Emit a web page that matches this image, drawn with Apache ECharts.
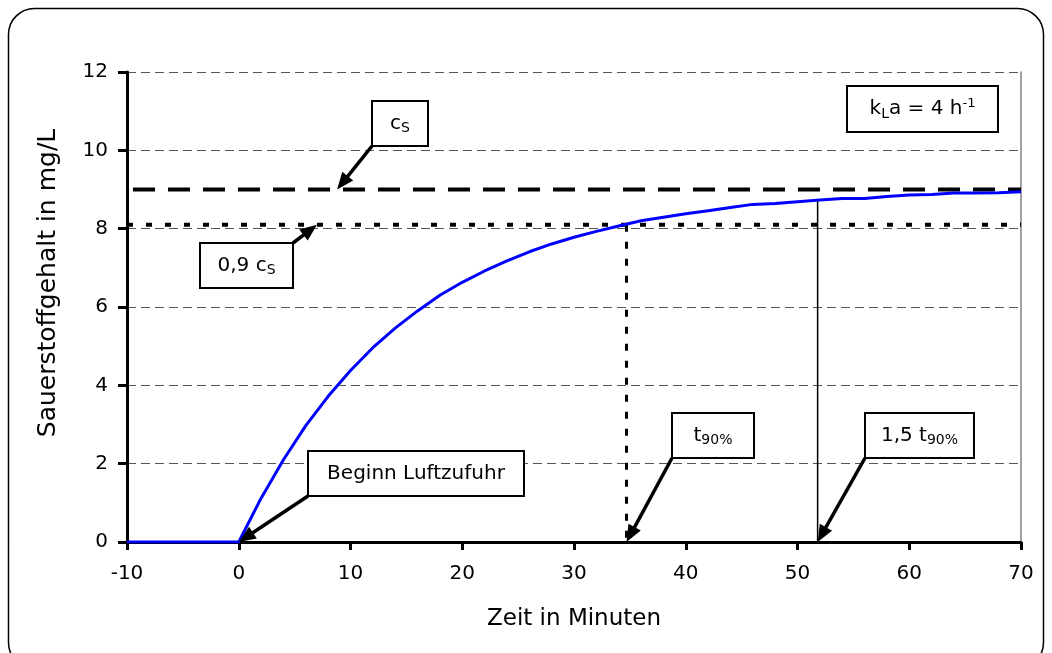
<!DOCTYPE html>
<html>
<head>
<meta charset="utf-8">
<script src="https://cdn.jsdelivr.net/npm/echarts@6/dist/echarts.min.js"></script>
<style>
  html, body { margin: 0; padding: 0; background: #ffffff; }
  #chart { width: 1052px; height: 653px; }
</style>
</head>
<body>
<div id="chart"></div>
<script>
// Oxygen uptake after switching on aeration (kLa = 4 1/h)
const timeMin = [-10, -8, -6, -4, -2, 0, 2, 4, 6, 8, 10, 12, 14, 16, 18, 20, 22, 24, 26, 28, 30,
                 32, 34, 36, 38, 40, 42, 44, 46, 48, 50, 52, 54, 56, 58, 60, 62, 64, 66, 68, 70];
const oxygen = [0, 0, 0, 0, 0, 0, 1.12, 2.1, 2.97, 3.72, 4.38, 4.96, 5.46, 5.9, 6.3, 6.63, 6.92, 7.18,
                7.41, 7.61, 7.78, 7.93, 8.07, 8.2, 8.29, 8.38, 8.46, 8.54, 8.62, 8.64, 8.69, 8.73, 8.77,
                8.77, 8.82, 8.86, 8.87, 8.91, 8.91, 8.92, 8.94];

// axis ticks
const xTicks = [-10, 0, 10, 20, 30, 40, 50, 60, 70];
const yTicks = [0, 2, 4, 6, 8, 10, 12];

// reference levels and times
const satLevel = 9.0;          // c_S
const sat90Level = 8.1;        // 0,9 c_S
const t90 = 34.7;              // t_90%
const t150 = 51.8;             // 1,5 t_90%
const oxygenAtT150 = 8.72;

// callout anchor points (data coordinates of the arrow tips)
const calloutTips = {
  cs:     [8.8, satLevel],
  cs90:   [7.0, sat90Level],
  start:  [0, 0],
  t90:    [t90, 0],
  t150:   [t150, 0]
};

const FONT = 'DejaVu Sans, Verdana, sans-serif';

const chart = echarts.init(document.getElementById('chart'), null, { renderer: 'canvas' });

const pairs = timeMin.map((t, i) => [t, oxygen[i]]);
const xMin = xTicks[0], xMax = xTicks[xTicks.length - 1];
const yMin = yTicks[0], yMax = yTicks[yTicks.length - 1];

chart.setOption({
  animation: false,
  backgroundColor: '#ffffff',
  grid: { left: 127, right: 31, top: 72, bottom: 111 },
  xAxis: {
    type: 'value',
    min: xMin, max: xMax, interval: xTicks[1] - xTicks[0],
    name: 'Zeit in Minuten',
    nameLocation: 'middle',
    nameGap: 66,
    nameTextStyle: { color: '#000', fontSize: 23, fontFamily: FONT },
    axisLine: { show: true, onZero: false, lineStyle: { color: '#000', width: 3 } },
    axisTick: { show: true, length: 8, lineStyle: { color: '#000', width: 3 } },
    axisLabel: { color: '#000', fontSize: 20, fontFamily: FONT, margin: 22 },
    splitLine: { show: false }
  },
  yAxis: [
    {
      type: 'value',
      min: yMin, max: yMax, interval: yTicks[1] - yTicks[0],
      name: 'Sauerstoffgehalt in mg/L',
      nameLocation: 'middle',
      nameGap: 66,
      nameTextStyle: { color: '#000', fontSize: 25, fontFamily: FONT, padding: [0, 0, 0, 48] },
      axisLine: { show: true, onZero: false, lineStyle: { color: '#000', width: 3 } },
      axisTick: { show: true, length: 9, lineStyle: { color: '#000', width: 3 } },
      axisLabel: { color: '#000', fontSize: 20, fontFamily: FONT, margin: 19 },
      splitLine: { show: true, lineStyle: { color: '#555', width: 1, type: [9, 5] } }
    },
    {
      type: 'value',
      position: 'right',
      min: yMin, max: yMax, interval: yTicks[1] - yTicks[0],
      axisLine: { show: true, onZero: false, lineStyle: { color: '#808080', width: 1.5 } },
      axisTick: { show: false },
      axisLabel: { show: false },
      splitLine: { show: false }
    }
  ],
  series: [
    {
      name: 'c_S',
      type: 'line',
      data: [[xMin, satLevel], [xMax, satLevel]],
      symbol: 'none',
      silent: true,
      z: 2,
      lineStyle: { color: '#000', width: 4, type: [22, 13], dashOffset: 29 }
    },
    {
      name: '0,9 c_S',
      type: 'line',
      data: [[xMin, sat90Level], [xMax, sat90Level]],
      symbol: 'none',
      silent: true,
      z: 2,
      lineStyle: { color: '#000', width: 4, type: [6, 13] }
    },
    {
      name: 't90',
      type: 'line',
      data: [[t90, sat90Level], [t90, 0]],
      symbol: 'none',
      silent: true,
      z: 2,
      lineStyle: { color: '#000', width: 3, type: [7, 10] }
    },
    {
      name: '1,5 t90',
      type: 'line',
      data: [[t150, oxygenAtT150], [t150, 0]],
      symbol: 'none',
      silent: true,
      z: 2,
      lineStyle: { color: '#000', width: 1.5, type: 'solid' }
    },
    {
      name: 'Sauerstoff',
      type: 'line',
      data: pairs,
      symbol: 'none',
      silent: true,
      z: 5,
      lineStyle: { color: '#0000ff', width: 3 }
    }
  ]
});

// --- callout boxes with arrows -------------------------------------------
const richStyles = {
  m: { fontSize: 20, fontFamily: FONT, lineHeight: 24, fill: '#000' },
  s: { fontSize: 14, fontFamily: FONT, lineHeight: 11, verticalAlign: 'bottom', fill: '#000' },
  p: { fontSize: 13, fontFamily: FONT, lineHeight: 12, verticalAlign: 'top', fill: '#000' }
};

// box: left/top offset of the box relative to the tip, size, corner where the arrow starts
const callouts = [
  { key: 'cs',    text: '{m|c}{s|S}',              dx: 35,   dy: -89, w: 56,  h: 45, from: 'bl' },
  { key: 'cs90',  text: '{m|0,9 c}{s|S}',          dx: -117, dy: 18,  w: 93,  h: 45, from: 'tr' },
  { key: 'start', text: '{m|Beginn Luftzufuhr}',   dx: 69,   dy: -91, w: 216, h: 45, from: 'bl' },
  { key: 't90',   text: '{m|t}{s|90%}',            dx: 45,   dy: -129, w: 82, h: 45, from: 'bl' },
  { key: 't150',  text: '{m|1,5 t}{s|90%}',        dx: 47,   dy: -129, w: 109, h: 45, from: 'bl' }
];

function arrow(x1, y1, x2, y2) {
  const dx = x2 - x1, dy = y2 - y1;
  const len = Math.hypot(dx, dy);
  const ux = dx / len, uy = dy / len;
  const headLen = 17, headHalf = 7;
  const bx = x2 - ux * headLen, by = y2 - uy * headLen;
  const px = -uy, py = ux;
  return [
    { type: 'line', z: 100, shape: { x1: x1, y1: y1, x2: bx + ux * 2, y2: by + uy * 2 },
      style: { stroke: '#000', lineWidth: 3.5 } },
    { type: 'polygon', z: 100,
      shape: { points: [[x2, y2], [bx + px * headHalf, by + py * headHalf], [bx - px * headHalf, by - py * headHalf]] },
      style: { fill: '#000' } }
  ];
}

function box(x, y, w, h, text) {
  return [
    { type: 'rect', z: 101, shape: { x: x, y: y, width: w, height: h },
      style: { fill: '#fff', stroke: '#000', lineWidth: 2 } },
    { type: 'text', z: 102, x: x + w / 2, y: y + h / 2,
      style: { text: text, rich: richStyles, align: 'center', verticalAlign: 'middle',
               fontFamily: FONT, fontSize: 20, fill: '#000' } }
  ];
}

function buildGraphics() {
  const elems = [];
  // outer rounded frame
  elems.push({ type: 'rect', z: 0, silent: true,
    shape: { x: 8.5, y: 8.5, width: 1035, height: 660, r: 26 },
    style: { fill: 'none', stroke: '#000', lineWidth: 1.5 } });

  callouts.forEach(c => {
    const tip = chart.convertToPixel({ gridIndex: 0 }, calloutTips[c.key]);
    const bx = Math.round(tip[0] + c.dx), by = Math.round(tip[1] + c.dy);
    let sx, sy;
    if (c.from === 'bl') { sx = bx; sy = by + c.h; }
    else { sx = bx + c.w; sy = by; }
    elems.push(...arrow(sx, sy, tip[0], tip[1]));
    elems.push(...box(bx, by, c.w, c.h, c.text));
  });

  // kLa label in the upper right corner of the plot
  const corner = chart.convertToPixel({ gridIndex: 0 }, [xMax, yMax]);
  elems.push(...box(Math.round(corner[0] - 174), Math.round(corner[1] + 14), 151, 46,
    '{m|k}{s|L}{m|a = 4 h}{p|-1}'));
  return elems;
}

chart.setOption({ graphic: buildGraphics() });
</script>
</body>
</html>
